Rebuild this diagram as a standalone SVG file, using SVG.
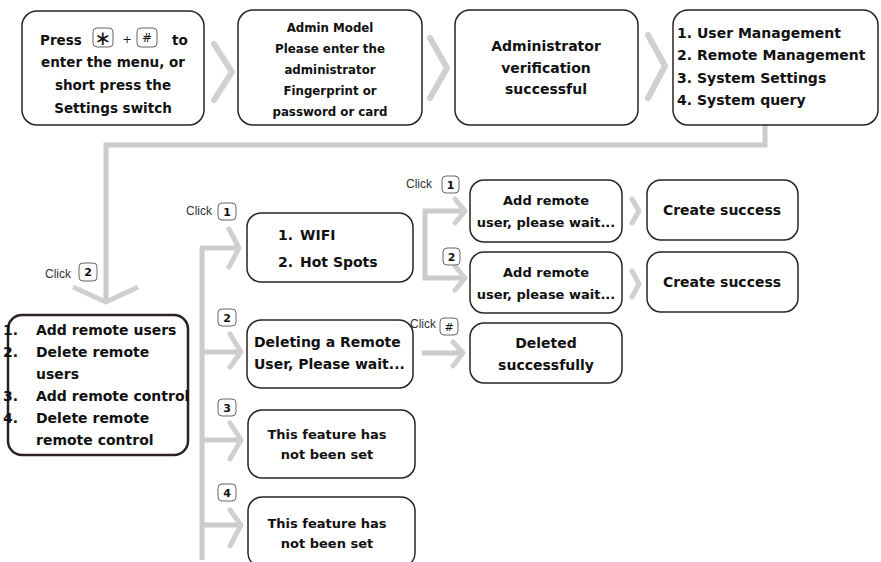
<svg xmlns="http://www.w3.org/2000/svg" width="881" height="562" viewBox="0 0 881 562">
<style>
.box{fill:#fff;stroke:#2b2220;stroke-width:1.5}
.t{font-family:"DejaVu Sans",sans-serif;font-weight:bold;fill:#111}
.c{text-anchor:middle}
.conn{fill:none;stroke:#cbcbcb;stroke-width:5;stroke-linecap:butt;stroke-linejoin:miter}
.chev{fill:none;stroke:#d0d0d0;stroke-width:6;stroke-linecap:round;stroke-linejoin:round}
.key{fill:#fff;stroke:#666;stroke-width:1}
.kt{font-family:"DejaVu Sans",sans-serif;font-weight:bold;font-size:11px;fill:#111;text-anchor:middle}
.click{font-family:"Liberation Sans",Arial,sans-serif;font-size:12px;fill:#333}
</style>
<rect width="881" height="562" fill="#fff"/>

<g id="connectors">
  <path class="chev" d="M214,44 L232,72 L214,100"/>
  <path class="chev" d="M430,38 L447,68 L430,98"/>
  <path class="chev" d="M648,35 L665,66 L648,98"/>
  <path class="conn" d="M765,125 V145 H106 V300"/>
  <path class="chev" style="stroke-width:5;stroke-linecap:butt" d="M73,287 L106,302 L138,287"/>
  <path class="conn" d="M202,248 V560"/>
  <path class="conn" d="M200,248 H238"/>
  <path class="chev" style="stroke-width:5" d="M229,229 L239,248 L229,267"/>
  <path class="conn" d="M202,352 H240"/>
  <path class="chev" style="stroke-width:5" d="M230,334 L241,352 L230,367"/>
  <path class="conn" d="M202,440 H240"/>
  <path class="chev" style="stroke-width:5" d="M230,423 L241,440 L230,459"/>
  <path class="conn" d="M202,525 H240"/>
  <path class="chev" style="stroke-width:5" d="M230,510 L241,525 L230,546"/>
  <path class="conn" d="M463,211 H425 V278 H463"/>
  <path class="chev" style="stroke-width:5" d="M455,199 L465,211 L455,223"/>
  <path class="chev" style="stroke-width:5" d="M455,266 L465,278 L455,290"/>
  <path class="conn" d="M422,353 H461"/>
  <path class="chev" style="stroke-width:5" d="M453,342 L463,353 L453,366"/>
  <path class="chev" style="stroke-width:5" d="M632,199 L639,211 L632,223"/>
  <path class="chev" style="stroke-width:5" d="M632,271 L639,284 L632,297"/>
</g>

<g id="labels">
  <text class="click" x="45" y="278">Click</text>
  <rect class="key" x="79" y="263" width="18" height="18" rx="4"/><text class="kt" x="88" y="276">2</text>
  <text class="click" x="186" y="215">Click</text>
  <rect class="key" x="218" y="203" width="18" height="17" rx="4"/><text class="kt" x="227" y="216">1</text>
  <rect class="key" x="218" y="309" width="18" height="17" rx="4"/><text class="kt" x="227" y="322">2</text>
  <rect class="key" x="218" y="399" width="18" height="17" rx="4"/><text class="kt" x="227" y="412">3</text>
  <rect class="key" x="218" y="484" width="18" height="17" rx="4"/><text class="kt" x="227" y="497">4</text>
  <text class="click" x="406" y="188">Click</text>
  <rect class="key" x="442" y="176" width="17" height="17" rx="4"/><text class="kt" x="450.5" y="189">1</text>
  <rect class="key" x="443" y="248" width="17" height="17" rx="4"/><text class="kt" x="451.5" y="261">2</text>
  <text class="click" x="410" y="328">Click</text>
  <rect class="key" x="440" y="318" width="18" height="17" rx="4"/><text class="kt" x="449" y="331" style="font-weight:normal">#</text>
</g>

<g id="n1">
  <rect class="box" x="22" y="11" width="182" height="114" rx="15"/>
  <text class="t" font-size="13.5" x="40" y="45">Press</text>
  <rect class="key" x="93" y="28" width="20" height="19" rx="4"/>
  <text x="103" y="45" font-family="DejaVu Sans,sans-serif" font-size="20" text-anchor="middle" fill="#111">∗</text>
  <text x="127" y="43" font-family="DejaVu Sans,sans-serif" font-size="11" text-anchor="middle" fill="#111">+</text>
  <rect class="key" x="137" y="28" width="20" height="19" rx="4"/>
  <text x="147" y="42" font-family="DejaVu Sans,sans-serif" font-size="12" text-anchor="middle" fill="#111">#</text>
  <text class="t" font-size="13.5" x="172" y="45">to</text>
  <text class="t c" font-size="13.5" x="113" y="67">enter the menu, or</text>
  <text class="t c" font-size="13.5" x="113" y="90">short press the</text>
  <text class="t c" font-size="13.5" x="113" y="113">Settings switch</text>
</g>

<g id="n2">
  <rect class="box" x="238" y="10" width="184" height="115" rx="15"/>
  <text class="t c" font-size="11.8" x="330" y="32">Admin Model</text>
  <text class="t c" font-size="11.8" x="330" y="53">Please enter the</text>
  <text class="t c" font-size="11.8" x="330" y="74">administrator</text>
  <text class="t c" font-size="11.8" x="330" y="95">Fingerprint or</text>
  <text class="t c" font-size="11.8" x="330" y="116">password or card</text>
</g>

<g id="n3">
  <rect class="box" x="455" y="10" width="183" height="115" rx="15"/>
  <text class="t c" font-size="14" x="546" y="51">Administrator</text>
  <text class="t c" font-size="14" x="546" y="73">verification</text>
  <text class="t c" font-size="14" x="546" y="94">successful</text>
</g>

<g id="n4">
  <rect class="box" x="673" y="10" width="205" height="115" rx="15"/>
  <text class="t" font-size="14" x="677" y="38">1. User Management</text>
  <text class="t" font-size="14" x="677" y="60">2. Remote Management</text>
  <text class="t" font-size="14" x="677" y="83">3. System Settings</text>
  <text class="t" font-size="14" x="677" y="105">4. System query</text>
</g>

<g id="n5">
  <rect class="box" style="stroke-width:2.5" x="8" y="315" width="180" height="140" rx="14"/>
  <text class="t" font-size="14" x="3" y="335">1.</text><text class="t" font-size="14" x="36" y="335">Add remote users</text>
  <text class="t" font-size="14" x="3" y="357">2.</text><text class="t" font-size="14" x="36" y="357">Delete remote</text>
  <text class="t" font-size="14" x="36" y="379">users</text>
  <text class="t" font-size="14" x="3" y="401">3.</text><text class="t" font-size="14" x="36" y="401">Add remote control</text>
  <text class="t" font-size="14" x="3" y="423">4.</text><text class="t" font-size="14" x="36" y="423">Delete remote</text>
  <text class="t" font-size="14" x="36" y="445">remote control</text>
</g>

<g id="n6">
  <rect class="box" x="247" y="213" width="166" height="69" rx="14"/>
  <text class="t" font-size="14" x="278" y="240">1.</text><text class="t" font-size="14" x="300" y="240">WIFI</text>
  <text class="t" font-size="14" x="278" y="267">2.</text><text class="t" font-size="14" x="300" y="267">Hot Spots</text>
</g>

<g id="n7">
  <rect class="box" x="470" y="180" width="152" height="62" rx="14"/>
  <text class="t c" font-size="13" x="546" y="205">Add remote</text>
  <text class="t c" font-size="13" x="546" y="227">user, please wait...</text>
</g>

<g id="n8">
  <rect class="box" x="470" y="252" width="152" height="61" rx="14"/>
  <text class="t c" font-size="13" x="546" y="277">Add remote</text>
  <text class="t c" font-size="13" x="546" y="299">user, please wait...</text>
</g>

<g id="n9">
  <rect class="box" x="647" y="180" width="151" height="60" rx="14"/>
  <text class="t c" font-size="14" x="722" y="215">Create success</text>
</g>

<g id="n10">
  <rect class="box" x="647" y="252" width="151" height="60" rx="14"/>
  <text class="t c" font-size="14" x="722" y="287">Create success</text>
</g>

<g id="n11">
  <rect class="box" x="247" y="320" width="166" height="68" rx="14"/>
  <text class="t" font-size="14" x="254" y="347">Deleting a Remote</text>
  <text class="t" font-size="14" x="254" y="369">User, Please wait...</text>
</g>

<g id="n12">
  <rect class="box" x="470" y="323" width="152" height="60" rx="14"/>
  <text class="t c" font-size="14" x="546" y="348">Deleted</text>
  <text class="t c" font-size="14" x="546" y="370">successfully</text>
</g>

<g id="n13">
  <rect class="box" x="248" y="410" width="167" height="68" rx="14"/>
  <text class="t c" font-size="13" x="327" y="439">This feature has</text>
  <text class="t c" font-size="13" x="327" y="459">not been set</text>
</g>

<g id="n14">
  <rect class="box" x="248" y="497" width="167" height="70" rx="14"/>
  <text class="t c" font-size="13" x="327" y="528">This feature has</text>
  <text class="t c" font-size="13" x="327" y="548">not been set</text>
</g>
</svg>
